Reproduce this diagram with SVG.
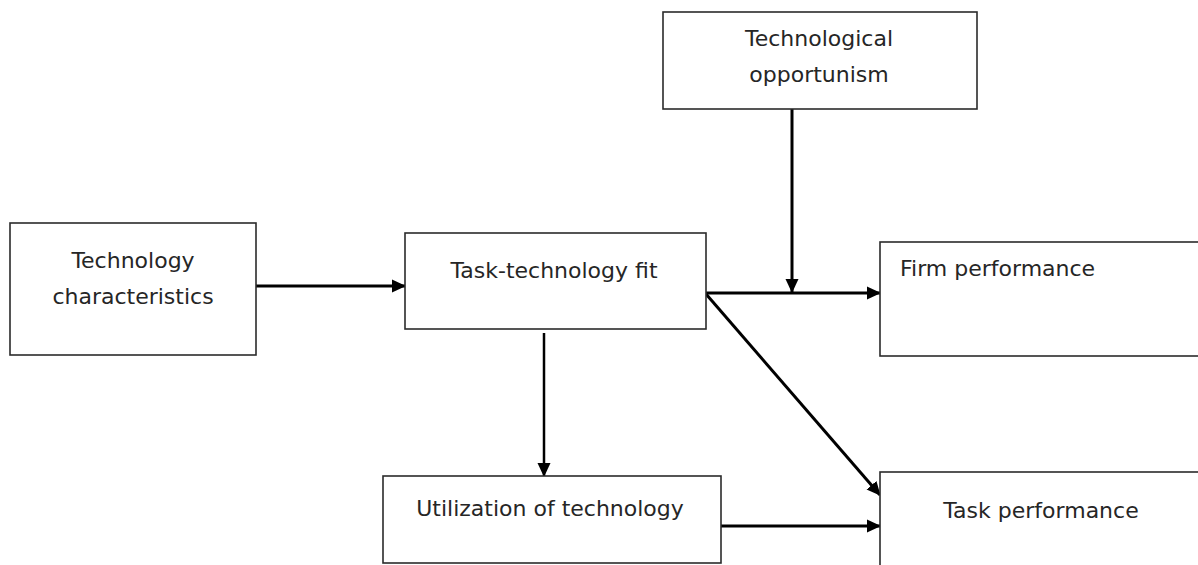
<svg xmlns="http://www.w3.org/2000/svg" width="1198" height="565" viewBox="0 0 1198 565">
<style>
.box{fill:#fff;stroke:#2b2b2b;stroke-width:1.6}
.lbl{font-family:"DejaVu Sans",sans-serif;font-size:22px;fill:#262626}
.c{stroke:#000;stroke-width:3;fill:none}
.c2{stroke:#000;stroke-width:2.5;fill:none}
</style>
<defs>
<marker id="ah" markerUnits="userSpaceOnUse" markerWidth="14" markerHeight="14" refX="13" refY="7" orient="auto">
<path d="M0,0.5 L14,7 L0,13.5 z" fill="#000"/>
</marker>
</defs>
<rect width="1198" height="565" fill="#fff"/>
<g id="connectors">
<line class="c" x1="256" y1="286" x2="405" y2="286" marker-end="url(#ah)"/>
<line class="c" x1="792" y1="109" x2="792" y2="292" marker-end="url(#ah)"/>
<line class="c" x1="706" y1="293" x2="880" y2="293" marker-end="url(#ah)"/>
<line class="c" x1="706" y1="294" x2="880" y2="495" marker-end="url(#ah)"/>
<line class="c2" x1="544" y1="333" x2="544" y2="476" marker-end="url(#ah)"/>
<line class="c" x1="721" y1="526" x2="880" y2="526" marker-end="url(#ah)"/>
</g>
<g id="tech-characteristics">
<rect class="box" x="10" y="223" width="246" height="132"/>
<text class="lbl" x="133" y="268" text-anchor="middle">Technology</text>
<text class="lbl" x="133" y="304" text-anchor="middle">characteristics</text>
</g>
<g id="task-technology-fit">
<rect class="box" x="405" y="233" width="301" height="96"/>
<text class="lbl" x="554" y="278" text-anchor="middle">Task-technology fit</text>
</g>
<g id="technological-opportunism">
<rect class="box" x="663" y="12" width="314" height="97"/>
<text class="lbl" x="819" y="46" text-anchor="middle">Technological</text>
<text class="lbl" x="819" y="82" text-anchor="middle">opportunism</text>
</g>
<g id="firm-performance">
<rect class="box" x="880" y="242" width="330" height="114"/>
<text class="lbl" x="900" y="276">Firm performance</text>
</g>
<g id="utilization">
<rect class="box" x="383" y="476" width="338" height="87"/>
<text class="lbl" x="550" y="516" text-anchor="middle">Utilization of technology</text>
</g>
<g id="task-performance">
<rect class="box" x="880" y="472" width="330" height="120"/>
<text class="lbl" x="1041" y="518" text-anchor="middle">Task performance</text>
</g>
</svg>
